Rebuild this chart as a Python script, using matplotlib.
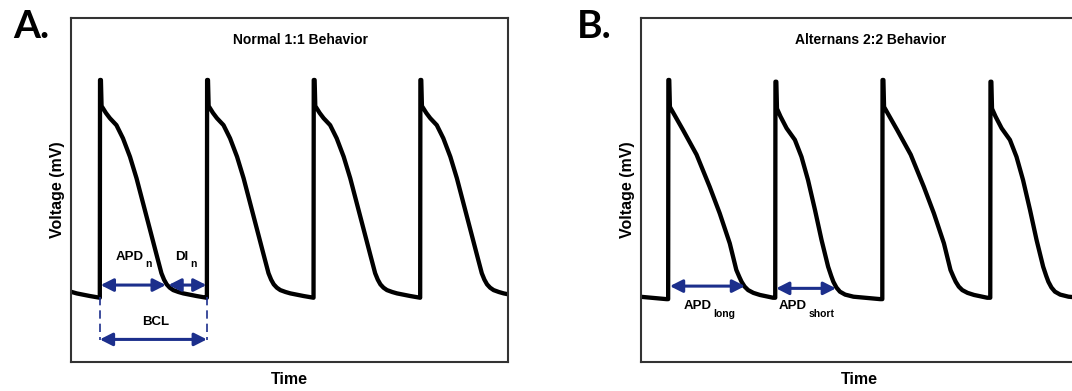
import matplotlib

matplotlib.use("Agg")
import matplotlib.pyplot as plt
import numpy as np

plt.rcParams["font.family"] = ["Liberation Sans", "DejaVu Sans"]

NAVY = "#1c2f8c"

# one normal beat (ms from upstroke, mV)
beat_t = [0, 0.5, 2.5, 4, 14, 23, 38, 53, 69, 84, 99, 114, 130, 141, 147, 153, 160, 168, 180, 191, 221, 244]
beat_v = [-85.4, 40, 40, 25, 21, 18, 14, 6.4, -4.2, -16.6, -31, -45.4, -60.8, -71.3, -75, -77.7, -79.6, -81, -82.1, -82.9, -84.4, -85.4]
onsets_a = [-178, 66, 311, 555, 799]

# alternans: long and short beats
long_t = [0, 0.5, 2.5, 4, 34, 65, 95, 118, 141, 156, 163, 168, 175, 183, 195, 210, 240]
long_v = [-86.2, 40, 40, 24.5, 11.2, -3, -21.5, -36.8, -54.1, -69.4, -73.5, -76.2, -79, -81, -82.6, -83.8, -85.4]
short_t = [0, 0.5, 2.5, 4, 12, 26, 45, 60, 75, 91, 106, 121, 128, 133, 140, 148, 160, 179, 240]
short_v = [-85.4, 39, 39, 23.5, 19, 12.2, 5.5, -4.2, -17.6, -34.9, -52.2, -67.5, -72.8, -76.2, -79.5, -81.9, -83.6, -84.8, -86.2]
onsets_b = [-182, 62, 307, 552, 799]
kinds_b = ["short", "long", "short", "long", "short"]

# annotation spans (ms) and levels (mV)
apd_n = (68, 217, -78.1)
di_n = (223, 310, -78.1)
bcl = (66, 311, -109.4)
apd_long = (66, 238, -78.7)
apd_short = (309, 446, -80.0)


def trace(onsets, templates):
    ts, vs = [], []
    for on, (bt, bv) in zip(onsets, templates):
        ts.extend(on + np.asarray(bt))
        vs.extend(bv)
    return np.array(ts), np.array(vs)


def dbl_arrow(ax, x0, x1, y):
    ax.annotate("", xy=(x1, y), xytext=(x0, y),
                arrowprops=dict(arrowstyle="<|-|>,head_length=0.75,head_width=0.38",
                                color=NAVY, lw=2.2, shrinkA=0, shrinkB=0,
                                mutation_scale=10))


def sub_label(ax, x, y, main, sub):
    # main text plus a dropped subscript, as in the original figure
    t = ax.text(x, y, main, ha="left", va="baseline", fontsize=9.5, fontweight="bold")
    ax.annotate(sub, xy=(1, 0), xycoords=t, xytext=(1.2, -3), textcoords="offset points",
                ha="left", va="baseline", fontsize=7.5, fontweight="bold")


def setup(ax, title):
    ax.set_xlim(0, 1000)
    ax.set_ylim(-122.4, 75.7)
    ax.set_xticks([])
    ax.set_yticks([])
    for s in ax.spines.values():
        s.set_linewidth(1.5)
        s.set_color("#333333")
    ax.set_ylabel("Voltage (mV)", fontsize=11.5, fontweight="bold", labelpad=4.5)
    ax.set_xlabel("Time", fontsize=11.5, fontweight="bold", labelpad=7)
    ax.text(0.526, 0.936, title, transform=ax.transAxes, ha="center", va="center",
            fontsize=10, fontweight="bold")


fig = plt.figure(figsize=(10.72, 3.91), dpi=100)
ax_a = fig.add_axes([0.0662, 0.0742, 0.4077, 0.8798])
ax_b = fig.add_axes([0.598, 0.0742, 0.4077, 0.8798])

# Panel A
t, v = trace(onsets_a, [(beat_t, beat_v)] * len(onsets_a))
ax_a.plot(t, v, color="black", lw=3.1, solid_joinstyle="round", solid_capstyle="round")
setup(ax_a, "Normal 1:1 Behavior")
dbl_arrow(ax_a, *apd_n)
dbl_arrow(ax_a, *di_n)
dbl_arrow(ax_a, *bcl)
for x in bcl[:2]:
    ax_a.plot([x, x], [-85.2, -109.8], color=NAVY, lw=1.2, ls=(0, (5, 3)))
sub_label(ax_a, 103, -63.7, "APD", "n")
sub_label(ax_a, 238, -63.7, "DI", "n")
ax_a.text(194, -101, "BCL", ha="center", va="baseline", fontsize=9.5, fontweight="bold")

# Panel B
tmpl = {"long": (long_t, long_v), "short": (short_t, short_v)}
t, v = trace(onsets_b, [tmpl[k] for k in kinds_b])
ax_b.plot(t, v, color="black", lw=3.1, solid_joinstyle="round", solid_capstyle="round")
setup(ax_b, "Alternans 2:2 Behavior")
dbl_arrow(ax_b, *apd_long)
dbl_arrow(ax_b, *apd_short)
sub_label(ax_b, 97, -92.1, "APD", "long")
sub_label(ax_b, 316, -92.1, "APD", "short")

fig.text(0.012, 0.903, "A.", fontsize=28, fontweight="bold", family="Lato")
fig.text(0.538, 0.903, "B.", fontsize=28, fontweight="bold", family="Lato")

fig.savefig("out.png", dpi=100)
